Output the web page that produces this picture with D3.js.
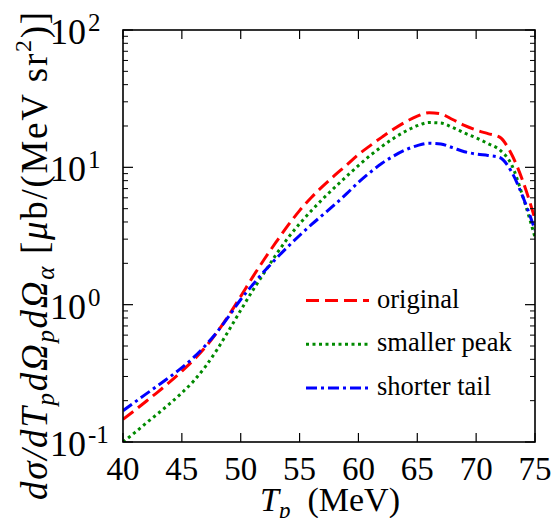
<!DOCTYPE html>
<html>
<head>
<meta charset="utf-8">
<script src="https://cdn.jsdelivr.net/npm/d3@7"></script>
<style>
  body { margin: 0; background: #fff; }
</style>
</head>
<body>
<div id="chart"></div>
<script>
// energies T_p (MeV)
var tp = [40,41,42,43,44,45,46,47,48,49,50,51,52,53,54,55,56,57,58,59,60,
          61,62,63,64,65,66,67,68,69,70,71,72,73,74,75];

var original = [0.146,0.17,0.199,0.233,0.275,0.328,0.396,0.49,0.631,0.841,1.15,1.58,2.14,2.85,3.76,4.84,6.03,7.33,8.77,10.4,12.4,
                14.4,16.6,19,21.4,23.6,25,24.5,22.3,20.2,18.7,17.6,16.6,12.5,7.8,4.2];
var smallerPeak = [0.1,0.117,0.138,0.162,0.191,0.228,0.278,0.354,0.472,0.652,0.91,1.26,1.71,2.31,3.05,3.88,4.83,5.92,7.16,8.61,10.3,
                   12.2,14.2,16.3,18.3,20.1,21.2,21.0,19.5,17.8,16.4,14.9,13.4,10.5,6.0,3.1];
var shorterTail = [0.169,0.195,0.225,0.259,0.299,0.348,0.413,0.504,0.634,0.826,1.09,1.39,1.75,2.16,2.64,3.19,3.82,4.53,5.37,6.43,7.78,
                   9.2,10.7,12.1,13.4,14.4,15,14.8,13.9,13.0,12.5,12.2,11.8,9.3,6.0,3.5];

var xTicks = [40,45,50,55,60,65,70,75];
var yDecades = [-1,0,1,2];
var legendLabels = ["original","smaller peak","shorter tail"];

drawChart();

function drawChart() {
  var series = [
    {name: legendLabels[0], values: original, color: "#ff0000", dash: "13,6"},
    {name: legendLabels[1], values: smallerPeak, color: "#008a00", dash: "3,3.5"},
    {name: legendLabels[2], values: shorterTail, color: "#0000ff", dash: "11,4,3,4"}
  ];

  var width = 557, height = 518;
  var mLeft = 123, mRight = 535, mTop = 30, mBottom = 442;

  var svg = d3.select("#chart").append("svg")
    .attr("width", width).attr("height", height)
    .attr("font-family", "Liberation Serif");

  var x = d3.scaleLinear().domain([40, 75]).range([mLeft, mRight]);
  var y = d3.scaleLog().domain([0.1, 100]).range([mBottom, mTop]);

  svg.append("clipPath").attr("id", "clip")
    .append("rect").attr("x", mLeft).attr("y", mTop).attr("width", mRight - mLeft).attr("height", mBottom - mTop);

  // curves
  var line = d3.line()
    .x(function(d, i) { return x(tp[i]) })
    .y(function(d) { return y(d) })
    .curve(d3.curveMonotoneX);

  svg.append("g").attr("clip-path", "url(#clip)")
    .selectAll("path").data(series).join("path")
    .attr("d", function(s) { return line(s.values) })
    .attr("fill", "none")
    .attr("stroke", function(s) { return s.color })
    .attr("stroke-width", 3)
    .attr("stroke-dasharray", function(s) { return s.dash });

  // frame + ticks
  var axes = svg.append("g").attr("stroke", "#000");

  var minor = [];
  yDecades.forEach(function(e) {
    if (e < 2) for (var k = 2; k <= 9; k++) minor.push(k * Math.pow(10, e));
  });

  xTicks.forEach(function(t) {
    axes.append("line").attr("x1", x(t)).attr("x2", x(t)).attr("y1", mBottom).attr("y2", mBottom - 9).attr("stroke-width", 1.2);
    axes.append("line").attr("x1", x(t)).attr("x2", x(t)).attr("y1", mTop).attr("y2", mTop + 9).attr("stroke-width", 1.2);
  });
  yDecades.forEach(function(e) {
    var v = Math.pow(10, e);
    axes.append("line").attr("x1", mLeft).attr("x2", mLeft + 10).attr("y1", y(v)).attr("y2", y(v)).attr("stroke-width", 1.2);
    axes.append("line").attr("x1", mRight).attr("x2", mRight - 10).attr("y1", y(v)).attr("y2", y(v)).attr("stroke-width", 1.2);
  });
  minor.forEach(function(v) {
    axes.append("line").attr("x1", mLeft).attr("x2", mLeft + 5).attr("y1", y(v)).attr("y2", y(v)).attr("stroke-width", 1);
    axes.append("line").attr("x1", mRight).attr("x2", mRight - 5).attr("y1", y(v)).attr("y2", y(v)).attr("stroke-width", 1);
  });

  axes.append("rect").attr("x", mLeft).attr("y", mTop).attr("width", mRight - mLeft).attr("height", mBottom - mTop)
    .attr("fill", "none").attr("stroke-width", 1.6);

  // tick labels
  svg.append("g").selectAll("text").data(xTicks).join("text")
    .attr("x", function(d) { return x(d) })
    .attr("y", 480)
    .attr("text-anchor", "middle")
    .attr("font-size", 33)
    .text(function(d) { return d });

  yDecades.forEach(function(e) {
    var ty = y(Math.pow(10, e));
    svg.append("text").attr("x", 86).attr("y", ty + 14)
      .attr("text-anchor", "end").attr("font-size", 36).text("10");
    svg.append("text").attr("x", 88).attr("y", ty + 1)
      .attr("font-size", 25).text(e < 0 ? "-" + (-e) : e);
  });

  // x title
  var xt = svg.append("text").attr("x", 330).attr("y", 511).attr("text-anchor", "middle").attr("font-size", 34);
  xt.append("tspan").attr("font-style", "italic").text("T");
  xt.append("tspan").attr("font-style", "italic").attr("font-size", 23).attr("dy", 7).text("p");
  xt.append("tspan").attr("dy", -7).text("\u2002(MeV)");

  // y title
  var yt = svg.append("text")
    .attr("transform", "translate(47,256) rotate(-90)")
    .attr("text-anchor", "middle")
    .attr("font-size", 37)
    .attr("textLength", 488)
    .attr("lengthAdjust", "spacing");
  function part(txt, opt) {
    var s = yt.append("tspan").text(txt);
    if (opt && opt.it) s.attr("font-style", "italic");
    if (opt && opt.size) s.attr("font-size", opt.size);
    if (opt && opt.dy) s.attr("dy", opt.dy);
    return s;
  }
  part("d\u03c3/dT", {it: true});
  part("p", {it: true, size: 25, dy: 7});
  part("d\u03a9", {it: true, dy: -7});
  part("p", {it: true, size: 25, dy: 7});
  part("d\u03a9", {it: true, dy: -7});
  part("\u03b1", {it: true, size: 25, dy: 7});
  part(" [", {dy: -7});
  part("\u03bc", {it: true});
  part("b/(MeV sr");
  part("2", {size: 24, dy: -16});
  part(")]", {dy: 16});

  // legend
  var leg = svg.append("g").selectAll("g").data(series).join("g")
    .attr("transform", function(d, i) { return "translate(0," + (300.5 + i * 43.7) + ")" });
  leg.append("line").attr("x1", 306).attr("x2", 369).attr("y1", 0).attr("y2", 0)
    .attr("stroke", function(d) { return d.color })
    .attr("stroke-width", 3)
    .attr("stroke-dasharray", function(d) { return d.dash });
  leg.append("text").attr("x", 377).attr("y", 7).attr("font-size", 26.5)
    .text(function(d) { return d.name });
}
</script>
</body>
</html>
